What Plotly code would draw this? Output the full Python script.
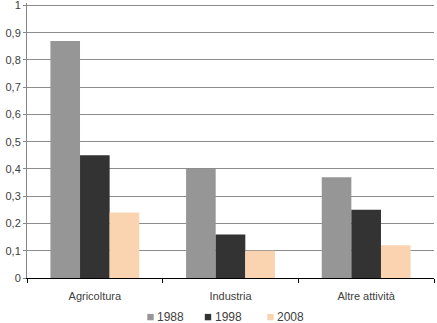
import plotly.graph_objects as go

categories = ["Agricoltura", "Industria", "Altre attività"]
years = ["1988", "1998", "2008"]
v1988 = [0.87, 0.40, 0.37]
v1998 = [0.45, 0.16, 0.25]
v2008 = [0.24, 0.10, 0.12]
y_ticks = [0, 0.1, 0.2, 0.3, 0.4, 0.5, 0.6, 0.7, 0.8, 0.9, 1]

colors = ["#969696", "#333333", "#FAD3B0"]
series = [v1988, v1998, v2008]

W, H = 437, 323
ML, MR, MT, MB = 27, 3, 3, 45
PW = W - ML - MR
PH = H - MT - MB


def px_x(px):
    return (px - ML) / PW


def px_y(py):
    return (H - MB - py) / PH


fig = go.Figure()
for name, vals, col in zip(years, series, colors):
    fig.add_trace(go.Bar(x=categories, y=vals, name=name, marker_color=col,
                         marker_line_width=0, showlegend=False))

font = dict(family="Liberation Sans, Arial, sans-serif", size=11, color="#404040")

# manual legend (symbol + label), placed under the plot
legend_centers = [150.5, 208, 270.5]
for name, col, cx in zip(years, colors, legend_centers):
    fig.add_shape(type="rect", xref="paper", yref="paper",
                  x0=px_x(cx - 3.2), x1=px_x(cx + 3.2),
                  y0=px_y(320.3), y1=px_y(313.9),
                  fillcolor=col, line_width=0)
    fig.add_annotation(text=name, xref="paper", yref="paper",
                       x=px_x(cx + 4.5), y=px_y(317), xanchor="left", yanchor="middle",
                       showarrow=False, font=dict(family=font["family"], size=12, color="#404040"))

fig.update_layout(
    width=W, height=H,
    margin=dict(l=ML, r=MR, t=MT, b=MB),
    paper_bgcolor="white", plot_bgcolor="white",
    font=font,
    separators=",.",
    bargap=0.345, bargroupgap=0,
    barmode="group",
    showlegend=False,
    xaxis=dict(showline=True, linecolor="#000000", linewidth=1,
               ticks="outside", tickson="boundaries", ticklen=4, tickcolor="#000000",
               ticklabelstandoff=8,
               showgrid=False, zeroline=False, automargin=False),
    yaxis=dict(range=[0, 1.009], tickvals=y_ticks, showline=True, linecolor="#868686",
               linewidth=1, ticks="outside", ticklen=3, tickcolor="#868686",
               showgrid=True, gridcolor="#8c8c8c", gridwidth=1, zeroline=False,
               automargin=False, ticklabeloverflow="allow"),
)
fig.write_html("out.html")
